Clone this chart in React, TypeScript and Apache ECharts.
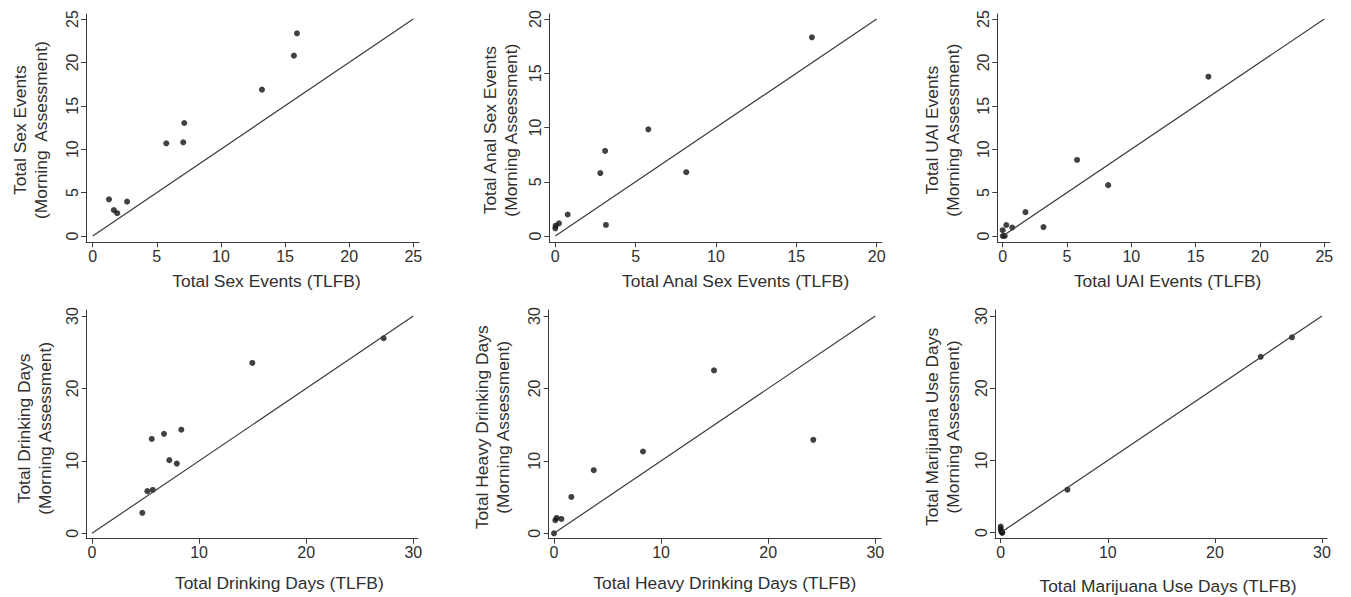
import React, { useEffect, useRef } from "react";
import * as echarts from "echarts";

// ---- Data ----
// Panel 1: Total Sex Events
const sexTLFB = [1.27, 1.65, 1.91, 2.68, 5.74, 7.06, 7.14, 13.2, 15.69, 15.93];
const sexMorning = [4.23, 2.98, 2.63, 3.96, 10.68, 10.79, 13.02, 16.86, 20.78, 23.35];
// Panel 2: Total Anal Sex Events
const analTLFB = [0, 0.02, 0.23, 0.77, 2.8, 3.1, 3.15, 5.79, 8.15, 15.97];
const analMorning = [0.71, 0.95, 1.17, 1.98, 5.8, 7.84, 1.02, 9.83, 5.88, 18.31];
// Panel 3: Total UAI Events
const uaiTLFB = [0, 0.16, 0, 0.28, 0.74, 1.77, 3.17, 5.78, 8.2, 15.99];
const uaiMorning = [0, 0, 0.67, 1.27, 0.98, 2.75, 1.03, 8.76, 5.86, 18.35];
// Panel 4: Total Drinking Days
const drinkTLFB = [4.7, 5.17, 5.67, 5.58, 6.72, 7.22, 7.92, 8.34, 14.97, 27.23];
const drinkMorning = [2.83, 5.82, 5.99, 13.03, 13.73, 10.1, 9.62, 14.3, 23.52, 26.93];
// Panel 5: Total Heavy Drinking Days
const heavyTLFB = [0, 0.12, 0.25, 0.69, 1.62, 3.71, 8.31, 14.94, 24.21];
const heavyMorning = [0, 1.8, 2.12, 1.98, 5.02, 8.71, 11.29, 22.49, 12.9];
// Panel 6: Total Marijuana Use Days
const mjTLFB = [0, 0, 0.04, 0.12, 0.16, 6.23, 24.28, 27.2];
const mjMorning = [0.85, 0.5, 0.2, 0, 0, 5.94, 24.35, 27.05];

// Tick labels
const ticks20 = [0, 5, 10, 15, 20];
const ticks25 = [0, 5, 10, 15, 20, 25];
const ticks30 = [0, 10, 20, 30];

// Axis titles
const xTitles = [
  "Total Sex Events (TLFB)",
  "Total Anal Sex Events (TLFB)",
  "Total UAI Events (TLFB)",
  "Total Drinking Days (TLFB)",
  "Total Heavy Drinking Days (TLFB)",
  "Total Marijuana Use Days (TLFB)",
];
const yTitles = [
  "Total Sex Events\n(Morning  Assessment)",
  "Total Anal Sex Events\n(Morning Assessment)",
  "Total UAI Events\n(Morning Assessment)",
  "Total Drinking Days\n(Morning Assessment)",
  "Total Heavy Drinking Days\n(Morning Assessment)",
  "Total Marijuana Use Days\n(Morning Assessment)",
];

const panelData = [
  { x: sexTLFB, y: sexMorning, ticks: ticks25 },
  { x: analTLFB, y: analMorning, ticks: ticks20 },
  { x: uaiTLFB, y: uaiMorning, ticks: ticks25 },
  { x: drinkTLFB, y: drinkMorning, ticks: ticks30 },
  { x: heavyTLFB, y: heavyMorning, ticks: ticks30 },
  { x: mjTLFB, y: mjMorning, ticks: ticks30 },
];

// ---- Layout (pixels) ----
// box: axis-line rectangle; x0/xM: pixel of first/last tick on x; y0/yM same on y
const layout = [
  { l: 86, r: 419, t: 14, b: 242.3, x0: 92.7, xM: 413.3, y0: 236, yM: 19, xGap: 29, xShift: 14, yGap: 35, yShift: 2 },
  { l: 549.3, r: 882, t: 14, b: 242.3, x0: 555.3, xM: 876.7, y0: 236, yM: 19, xGap: 29, xShift: 20, yGap: 28, yShift: 2 },
  { l: 997.3, r: 1330, t: 14, b: 242.3, x0: 1002.7, xM: 1324.3, y0: 236, yM: 19, xGap: 29, xShift: 4, yGap: 34, yShift: 2 },
  { l: 86.7, r: 418, t: 310, b: 538.7, x0: 92, xM: 413.3, y0: 533.3, yM: 316, xGap: 34, xShift: 27, yGap: 31, yShift: 4 },
  { l: 548.7, r: 881, t: 310, b: 538.7, x0: 554, xM: 875.3, y0: 533.3, yM: 316, xGap: 34, xShift: 10, yGap: 35, yShift: 3 },
  { l: 995, r: 1327, t: 310, b: 538.7, x0: 1000.7, xM: 1322, y0: 533.3, yM: 316, xGap: 38, xShift: 7, yGap: 32, yShift: 3 },
];

const FONT = "'Liberation Sans', Arial, Helvetica, sans-serif";
const TEXT = "#2f2f2f";
const LINE = "#3a3a3a";

function buildOption() {
  const grid: any[] = [];
  const xAxis: any[] = [];
  const yAxis: any[] = [];
  const series: any[] = [];
  panelData.forEach((p, i) => {
    const L = layout[i];
    const tMax = p.ticks[p.ticks.length - 1];
    const sx = (L.xM - L.x0) / tMax;
    const sy = (L.y0 - L.yM) / tMax;
    const xmin = (L.l - L.x0) / sx;
    const xmax = tMax + (L.r - L.xM) / sx;
    const ymin = -(L.b - L.y0) / sy;
    const ymax = tMax + (L.yM - L.t) / sy;
    grid.push({ left: L.l, top: L.t, width: L.r - L.l, height: L.b - L.t, containLabel: false });
    const common = {
      type: "value",
      gridIndex: i,
      splitLine: { show: false },
      axisLine: { show: true, onZero: false, lineStyle: { color: LINE, width: 1 } },
      axisTick: { show: true, length: 5, customValues: p.ticks, lineStyle: { color: LINE, width: 1 } },
      nameLocation: "middle",
    };
    xAxis.push({
      ...common,
      min: xmin,
      max: xmax,
      axisLabel: { customValues: p.ticks, margin: 6, fontSize: 16, color: TEXT, fontFamily: FONT },
      name: xTitles[i],
      nameGap: L.xGap,
      nameTextStyle: {
        fontSize: 17.4,
        color: TEXT,
        fontFamily: FONT,
        lineHeight: 20,
        padding: [0, 0, 0, 2 * L.xShift],
      },
    });
    yAxis.push({
      ...common,
      min: ymin,
      max: ymax,
      axisLabel: { customValues: p.ticks, rotate: 90, margin: 6, fontSize: 16, color: TEXT, fontFamily: FONT },
      name: yTitles[i],
      nameRotate: 90,
      nameGap: L.yGap,
      nameTextStyle: {
        fontSize: 17.4,
        color: TEXT,
        fontFamily: FONT,
        lineHeight: 21,
        padding: [0, 2 * L.yShift, 0, 0],
      },
    });
    series.push({
      type: "line",
      xAxisIndex: i,
      yAxisIndex: i,
      data: [
        [0, 0],
        [tMax, tMax],
      ],
      symbol: "none",
      lineStyle: { color: LINE, width: 1.2 },
      silent: true,
    });
    series.push({
      type: "scatter",
      xAxisIndex: i,
      yAxisIndex: i,
      data: p.x.map((v, k) => [v, p.y[k]]),
      symbol: "circle",
      symbolSize: 6,
      itemStyle: { color: "#111111" },
    });
  });
  return { animation: false, backgroundColor: "#ffffff", grid, xAxis, yAxis, series };
}

export default function App() {
  const ref = useRef<HTMLDivElement>(null);
  useEffect(() => {
    if (!ref.current) return;
    const chart = echarts.init(ref.current, undefined, { renderer: "svg" });
    chart.setOption(buildOption());
    return () => chart.dispose();
  }, []);
  return (
    <div
      ref={ref}
      style={{ position: "absolute", left: 0, top: 0, width: 1351, height: 597, background: "#fff" }}
    />
  );
}
